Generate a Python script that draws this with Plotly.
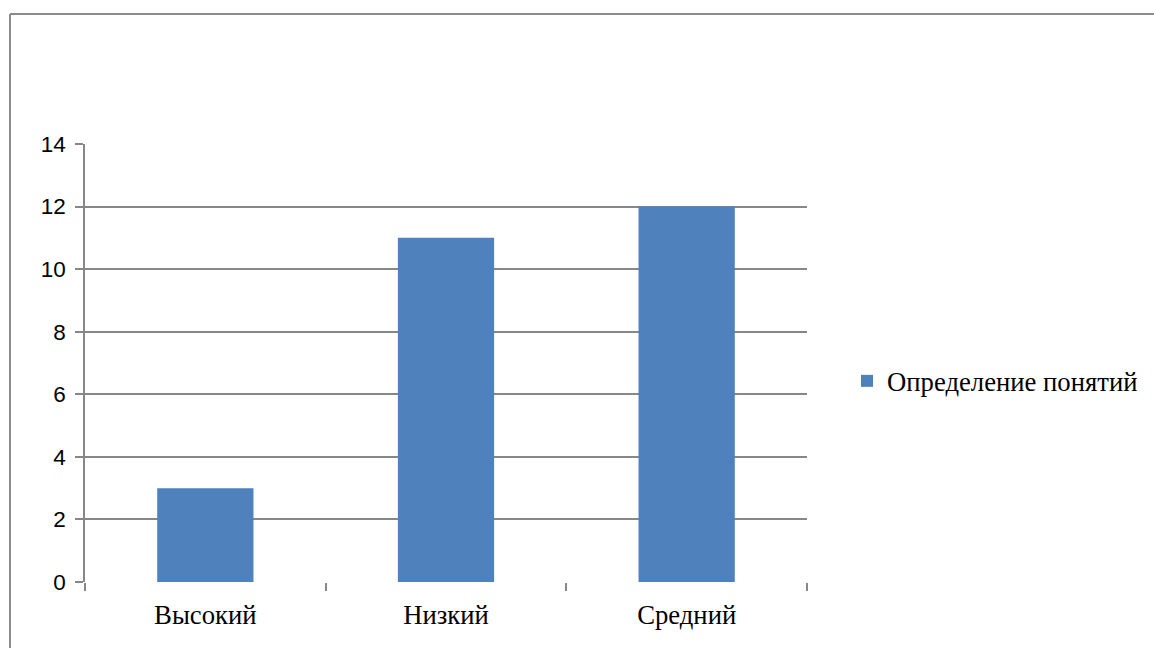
import plotly.graph_objects as go

categories = ["Высокий", "Низкий", "Средний"]
values = [3, 11, 12]
series_name = "Определение понятий"
y_ticks = [0, 2, 4, 6, 8, 10, 12, 14]

W, H = 1154, 648
L, R, T, B = 85, 1154 - 807, 144, 648 - 582
pw, ph = W - L - R, H - T - B

fig = go.Figure()
fig.add_trace(go.Bar(x=categories, y=values, name=series_name,
                     marker=dict(color="#4F81BD", line=dict(width=0))))

grid = "#878787"
border = "#8c8c8c"
bx0 = (10 - L) / pw
bx1 = (1154 - L) / pw
by_top = (582 - 14) / ph
by_bot = (582 - 648) / ph
fig.update_layout(
    width=W, height=H,
    margin=dict(l=L, r=R, t=T, b=B, pad=0, autoexpand=False),
    paper_bgcolor="white", plot_bgcolor="white",
    bargap=0.6,
    showlegend=True,
    legend=dict(x=(847 - L) / pw, xanchor="left", y=(582 - 381) / ph, yanchor="middle",
                font=dict(family="Liberation Serif", size=26.7, color="black"),
                bgcolor="rgba(0,0,0,0)", itemwidth=30),
    xaxis=dict(showgrid=False, showline=False, ticks="outside", tickson="boundaries",
               ticklen=8, tickcolor=grid, tickwidth=1.5,
               tickfont=dict(family="Liberation Serif", size=26.7, color="black"),
               zeroline=False, ticklabelstandoff=14),
    yaxis=dict(range=[0, 14], tickvals=y_ticks, showgrid=True, gridcolor=grid, gridwidth=1.5,
               showline=True, linecolor=grid, linewidth=1.5,
               ticks="outside", ticklen=8, tickcolor=grid, tickwidth=1.5,
               tickfont=dict(family="Liberation Sans", size=22.5, color="black"),
               zeroline=False, ticklabelstandoff=5),
    shapes=[
        dict(type="line", xref="paper", yref="paper", x0=bx0, x1=bx1, y0=by_top, y1=by_top,
             line=dict(color=border, width=2), layer="below"),
        dict(type="line", xref="paper", yref="paper", x0=bx0, x1=bx0, y0=by_top, y1=by_bot,
             line=dict(color=border, width=2), layer="below"),
    ],
)
fig.write_html("out.html")
